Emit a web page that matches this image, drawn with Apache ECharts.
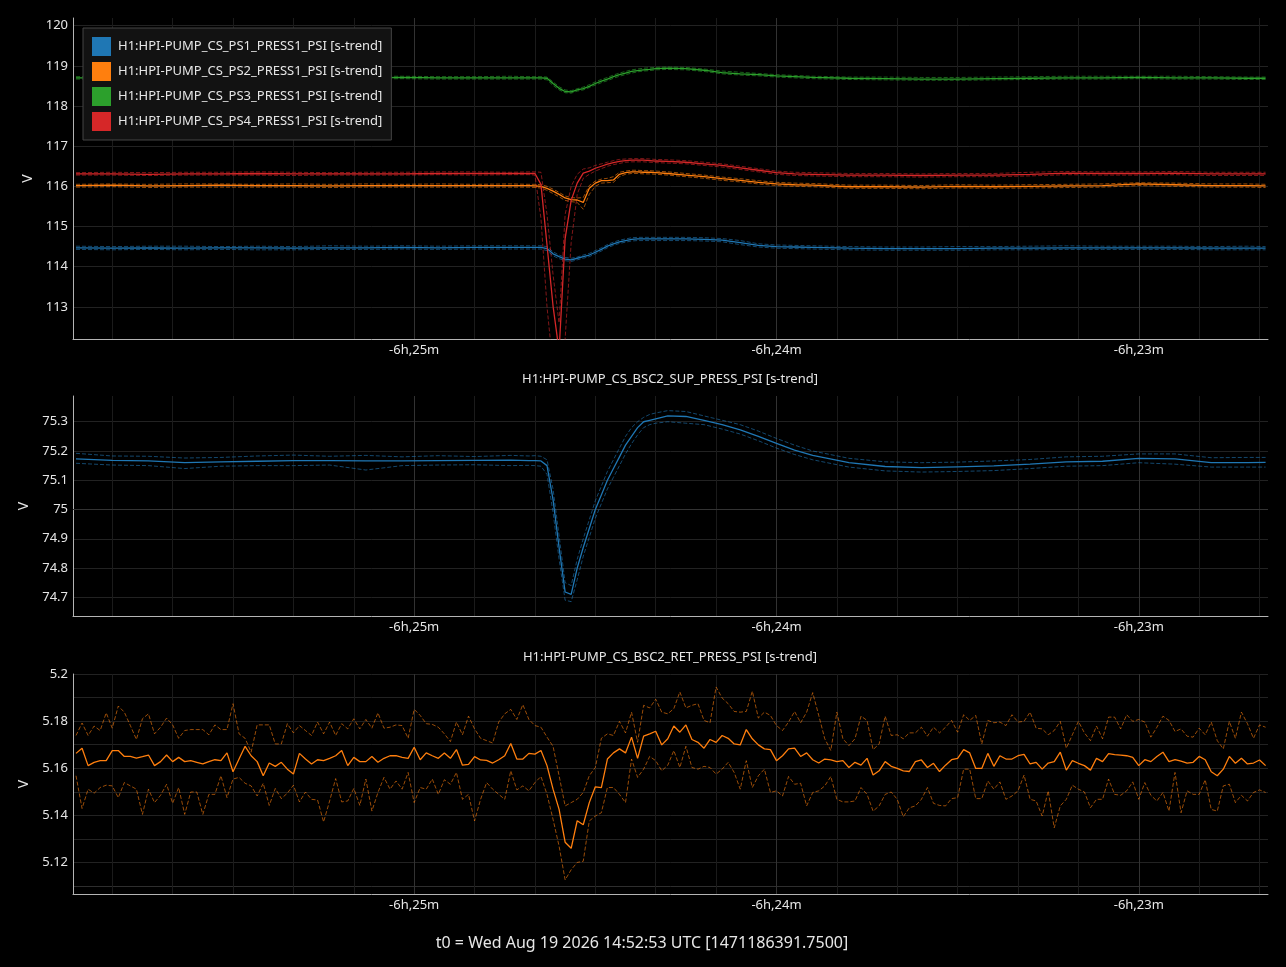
<!DOCTYPE html>
<html>
<head>
<meta charset="utf-8">
<script src="https://cdn.jsdelivr.net/npm/echarts@6/dist/echarts.min.js"></script>
<style>html,body{margin:0;padding:0;background:#000;}#c{width:1286px;height:967px;}</style>
</head>
<body>
<div id="c"></div>
<script>
// ---------- shared time sampling (seconds relative to t0) ----------
const X_MIN = -23156.5, X_MAX = -22958.6;
const TIME_A = [-23156,-23150,-23144,-23138,-23132,-23126,-23120,-23114,-23108,-23102,-23096,-23090,-23084,-23081,
  -23080,-23079,-23078,-23077,-23076,-23075,-23074,-23073,-23072,-23071,-23070,-23069,-23068,-23067,-23066,-23065,-23064,-23063,-23062,-23061,-23060,
  -23058,-23055,-23052,-23049,-23046,-23043,-23040,-23037,-23034,
  -23028,-23022,-23016,-23010,-23004,-22998,-22992,-22986,-22980,-22974,-22968,-22962,-22959];
const TIME_C_START = -23156; // 1-second trend for bottom panel

const NAMES = ['H1:HPI-PUMP_CS_PS1_PRESS1_PSI [s-trend]','H1:HPI-PUMP_CS_PS2_PRESS1_PSI [s-trend]','H1:HPI-PUMP_CS_PS3_PRESS1_PSI [s-trend]','H1:HPI-PUMP_CS_PS4_PRESS1_PSI [s-trend]'];
const TITLE_SUP = 'H1:HPI-PUMP_CS_BSC2_SUP_PRESS_PSI [s-trend]';
const TITLE_RET = 'H1:HPI-PUMP_CS_BSC2_RET_PRESS_PSI [s-trend]';
const T0_TEXT = 't0 = Wed Aug 19 2026 14:52:53 UTC [1471186391.7500]';
const SUP_MAJOR_LINE = 75;

// ---------- panel 1 ----------
const PS1_MEAN = [114.47,114.46,114.47,114.46,114.47,114.47,114.46,114.47,114.47,114.48,114.47,114.48,114.48,114.48,
 114.48,114.48,114.45,114.32,114.25,114.19,114.17,114.21,114.25,114.29,114.36,114.43,114.51,114.57,114.62,114.65,114.68,114.69,114.69,114.69,114.69,
 114.69,114.69,114.68,114.66,114.60,114.53,114.50,114.49,114.48,
 114.46,114.45,114.45,114.45,114.46,114.46,114.47,114.47,114.47,114.47,114.46,114.46,114.46];
const PS1_MAX = [114.51,114.50,114.51,114.51,114.50,114.51,114.50,114.52,114.51,114.52,114.51,114.52,114.52,114.52,
 114.52,114.52,114.50,114.37,114.29,114.23,114.21,114.24,114.29,114.33,114.40,114.47,114.55,114.61,114.66,114.69,114.72,114.73,114.73,114.73,114.73,
 114.73,114.73,114.72,114.70,114.65,114.57,114.54,114.53,114.52,
 114.50,114.49,114.49,114.50,114.50,114.51,114.52,114.51,114.51,114.51,114.50,114.51,114.50];
const PS1_MIN = [114.43,114.42,114.43,114.42,114.43,114.42,114.42,114.43,114.43,114.44,114.43,114.44,114.44,114.44,
 114.44,114.44,114.40,114.27,114.20,114.15,114.13,114.17,114.21,114.25,114.32,114.39,114.47,114.53,114.58,114.61,114.64,114.65,114.65,114.65,114.65,
 114.65,114.65,114.64,114.62,114.55,114.49,114.46,114.45,114.44,
 114.42,114.41,114.41,114.41,114.42,114.42,114.43,114.43,114.43,114.43,114.42,114.42,114.42];

const PS2_MEAN = [116.02,116.03,116.01,116.02,116.03,116.02,116.02,116.01,116.02,116.02,116.02,116.02,116.02,116.02,
 116.01,116.00,115.95,115.88,115.80,115.71,115.67,115.66,115.60,115.95,116.08,116.14,116.14,116.16,116.30,116.34,116.36,116.36,116.35,116.35,116.34,
 116.32,116.28,116.24,116.19,116.15,116.10,116.06,116.04,116.03,
 115.99,115.99,115.98,116.00,115.99,116.00,116.01,116.02,116.06,116.04,116.02,116.02,116.01];
const PS2_MAX = [116.05,116.06,116.05,116.06,116.06,116.05,116.06,116.05,116.06,116.05,116.06,116.05,116.06,116.05,
 116.05,116.04,116.00,115.93,115.85,115.76,115.72,115.71,115.72,116.02,116.13,116.18,116.20,116.24,116.35,116.38,116.40,116.40,116.39,116.39,116.38,
 116.36,116.32,116.28,116.23,116.19,116.14,116.10,116.08,116.07,
 116.03,116.03,116.02,116.04,116.03,116.04,116.05,116.06,116.09,116.08,116.06,116.06,116.05];
const PS2_MIN = [115.98,115.99,115.97,115.98,115.98,115.98,115.98,115.97,115.98,115.98,115.98,115.98,115.98,115.98,
 115.97,115.96,115.90,115.82,115.74,115.65,115.62,115.60,115.43,115.80,116.00,116.08,116.09,116.10,116.24,116.30,116.32,116.32,116.31,116.31,116.30,
 116.28,116.24,116.20,116.15,116.11,116.06,116.02,116.00,115.99,
 115.95,115.95,115.94,115.96,115.95,115.96,115.97,115.98,116.02,116.00,115.98,115.98,115.97];

const PS3_MEAN = [118.70,118.70,118.71,118.70,118.70,118.70,118.69,118.70,118.70,118.71,118.70,118.70,118.70,118.70,
 118.70,118.70,118.69,118.56,118.44,118.36,118.35,118.40,118.43,118.49,118.56,118.62,118.67,118.73,118.78,118.82,118.86,118.88,118.90,118.91,118.93,
 118.94,118.93,118.89,118.83,118.80,118.78,118.75,118.73,118.71,
 118.69,118.68,118.67,118.67,118.68,118.69,118.70,118.70,118.71,118.70,118.70,118.69,118.69];
const PS3_MAX = [118.73,118.74,118.74,118.73,118.73,118.74,118.73,118.73,118.74,118.74,118.73,118.73,118.74,118.73,
 118.73,118.73,118.72,118.60,118.48,118.40,118.38,118.43,118.47,118.53,118.60,118.66,118.71,118.77,118.82,118.86,118.90,118.92,118.94,118.95,118.96,
 118.97,118.96,118.92,118.87,118.84,118.81,118.78,118.76,118.74,
 118.72,118.72,118.71,118.71,118.72,118.73,118.74,118.74,118.74,118.74,118.73,118.72,118.72];
const PS3_MIN = [118.67,118.67,118.68,118.67,118.67,118.66,118.66,118.67,118.67,118.68,118.67,118.67,118.67,118.67,
 118.67,118.67,118.65,118.51,118.40,118.33,118.32,118.37,118.40,118.46,118.52,118.58,118.63,118.69,118.74,118.78,118.82,118.85,118.87,118.88,118.90,
 118.91,118.90,118.86,118.80,118.77,118.75,118.72,118.70,118.68,
 118.66,118.65,118.64,118.64,118.65,118.66,118.67,118.67,118.68,118.67,118.67,118.66,118.66];

const PS4_MEAN = [116.31,116.31,116.30,116.31,116.31,116.32,116.31,116.31,116.31,116.31,116.32,116.32,116.32,116.32,
 116.32,116.05,114.54,113.02,111.90,114.70,115.65,116.08,116.33,116.38,116.45,116.50,116.55,116.59,116.62,116.64,116.65,116.65,116.65,116.64,116.63,
 116.62,116.60,116.56,116.52,116.46,116.40,116.34,116.31,116.30,
 116.28,116.28,116.27,116.28,116.28,116.30,116.33,116.32,116.32,116.33,116.31,116.31,116.31];
const PS4_MAX = [116.34,116.35,116.34,116.35,116.35,116.36,116.35,116.34,116.35,116.35,116.36,116.36,116.35,116.36,
 116.36,116.35,115.30,113.80,112.60,115.30,116.00,116.30,116.43,116.46,116.52,116.56,116.60,116.64,116.67,116.68,116.69,116.69,116.69,116.68,116.67,
 116.66,116.64,116.60,116.56,116.50,116.44,116.38,116.35,116.34,
 116.32,116.32,116.31,116.32,116.32,116.35,116.37,116.36,116.36,116.37,116.35,116.35,116.35];
const PS4_MIN = [116.28,116.28,116.27,116.28,116.28,116.28,116.27,116.28,116.28,116.28,116.29,116.28,116.29,116.29,
 116.28,115.20,113.00,111.50,111.30,112.20,114.60,115.80,116.20,116.30,116.38,116.44,116.50,116.54,116.57,116.60,116.61,116.61,116.61,116.60,116.59,
 116.58,116.56,116.52,116.48,116.42,116.36,116.30,116.27,116.26,
 116.24,116.24,116.23,116.24,116.24,116.26,116.29,116.28,116.28,116.29,116.27,116.27,116.27];

// ---------- panel 2 ----------
const SUP_MEAN = [75.173,75.168,75.166,75.160,75.163,75.165,75.167,75.167,75.166,75.166,75.167,75.168,75.169,75.167,
 75.167,75.166,75.15,75.034,74.87,74.718,74.71,74.80,74.87,74.935,75.00,75.05,75.10,75.14,75.18,75.22,75.25,75.28,75.30,75.305,75.31,
 75.32,75.318,75.305,75.29,75.272,75.25,75.226,75.203,75.185,
 75.160,75.147,75.143,75.146,75.149,75.155,75.163,75.165,75.175,75.173,75.160,75.160,75.161];
const SUP_MAX = [75.192,75.183,75.182,75.176,75.178,75.183,75.186,75.182,75.185,75.180,75.184,75.181,75.185,75.183,
 75.184,75.182,75.17,75.07,74.91,74.75,74.74,74.83,74.90,74.965,75.03,75.08,75.13,75.17,75.21,75.25,75.28,75.30,75.315,75.325,75.33,
 75.338,75.335,75.32,75.305,75.29,75.268,75.243,75.22,75.20,
 75.175,75.163,75.16,75.162,75.166,75.171,75.18,75.182,75.19,75.19,75.177,75.178,75.178];
const SUP_MIN = [75.158,75.152,75.150,75.140,75.148,75.150,75.150,75.152,75.135,75.150,75.152,75.153,75.150,75.151,
 75.150,75.148,75.12,74.99,74.83,74.69,74.685,74.76,74.84,74.905,74.97,75.02,75.07,75.11,75.15,75.19,75.225,75.255,75.28,75.29,75.295,
 75.30,75.295,75.29,75.275,75.258,75.235,75.21,75.188,75.17,
 75.145,75.132,75.128,75.13,75.133,75.14,75.148,75.15,75.16,75.155,75.145,75.145,75.145];

// ---------- panel 3 (1 s samples) ----------
const RET_MEAN = [5.1663,5.1685,5.1611,5.1625,5.1632,5.1632,5.1675,5.1675,5.1650,5.1650,
5.1643,5.1649,5.1656,5.1611,5.1628,5.1656,5.1628,5.1646,5.1628,5.1632,
5.1625,5.1618,5.1628,5.1636,5.1632,5.1665,5.1585,5.1639,5.1693,5.1653,
5.1628,5.1568,5.1622,5.1608,5.1625,5.1596,5.1575,5.1663,5.1639,5.1618,
5.1636,5.1632,5.1642,5.1653,5.1675,5.1611,5.1646,5.1628,5.1628,5.1650,
5.1625,5.1642,5.1653,5.1653,5.1646,5.1642,5.1689,5.1636,5.1665,5.1653,
5.1642,5.1665,5.1642,5.1679,5.1613,5.1616,5.1649,5.1635,5.1633,5.1622,
5.1636,5.1653,5.1705,5.1639,5.1639,5.1663,5.1660,5.1675,5.1611,5.1511,
5.1425,5.1286,5.1260,5.1377,5.1360,5.1454,5.1521,5.1518,5.1639,5.1665,
5.1682,5.1665,5.1732,5.1642,5.1736,5.1746,5.1757,5.1699,5.1725,5.1779,
5.1753,5.1784,5.1722,5.1710,5.1685,5.1722,5.1710,5.1739,5.1727,5.1703,
5.1699,5.1764,5.1725,5.1699,5.1682,5.1679,5.1632,5.1653,5.1682,5.1685,
5.1650,5.1665,5.1636,5.1622,5.1639,5.1635,5.1628,5.1632,5.1603,5.1625,
5.1613,
5.1642,5.1571,5.1589,5.1628,5.1608,5.1599,5.1589,5.1586,5.1628,5.1635,
5.1603,5.1621,5.1586,5.1613,5.1636,5.1642,5.1679,5.1665,5.1599,5.1599,
5.1663,5.1608,5.1653,5.1639,5.1639,5.1653,5.1659,5.1618,5.1625,5.1596,
5.1622,5.1628,5.1668,5.1592,5.1632,5.1621,5.1611,5.1592,5.1642,5.1628,
5.1662,5.1658,5.1656,5.1653,5.1646,5.1611,5.1636,5.1628,5.1650,5.1668,
5.1628,5.1636,5.1630,5.1622,5.1625,5.1650,5.1636,5.1585,5.1568,5.1596,
5.1650,5.1621,5.1642,5.1618,5.1622,5.1635,5.1611];
const RET_MAX = [5.1739,5.1792,5.1739,5.1779,5.1760,5.1835,5.1770,5.1864,5.1838,5.1781,
5.1722,5.1810,5.1831,5.1746,5.1774,5.1813,5.1784,5.1727,5.1760,5.1764,
5.1764,5.1764,5.1742,5.1784,5.1764,5.1764,5.1874,5.1746,5.1727,5.1668,
5.1784,5.1784,5.1784,5.1703,5.1703,5.1789,5.1750,5.1781,5.1760,5.1739,
5.1796,5.1746,5.1796,5.1739,5.1789,5.1767,5.1810,5.1767,5.1807,5.1770,
5.1835,5.1770,5.1774,5.1784,5.1781,5.1727,5.1850,5.1824,5.1789,5.1786,
5.1774,5.1746,5.1713,5.1796,5.1742,5.1821,5.1767,5.1727,5.1717,5.1707,
5.1796,5.1831,5.1850,5.1807,5.1870,5.1807,5.1781,5.1774,5.1732,5.1693,
5.1568,5.1440,5.1454,5.1468,5.1497,5.1568,5.1603,5.1727,5.1746,5.1739,
5.1799,5.1750,5.1838,5.1710,5.1867,5.1856,5.1893,5.1838,5.1831,5.1853,
5.1924,5.1856,5.1867,5.1874,5.1803,5.1793,5.1945,5.1898,5.1874,5.1841,
5.1838,5.1841,5.1927,5.1813,5.1838,5.1824,5.1781,5.1760,5.1796,5.1841,
5.1793,5.1838,5.1921,5.1824,5.1725,5.1675,5.1838,5.1725,5.1696,5.1725,
5.1821,
5.1803,5.1679,5.1703,5.1821,5.1739,5.1742,5.1725,5.1750,5.1750,5.1774,
5.1736,5.1774,5.1750,5.1774,5.1803,5.1753,5.1827,5.1803,5.1824,5.1703,
5.1803,5.1793,5.1796,5.1781,5.1827,5.1796,5.1799,5.1838,5.1770,5.1767,
5.1742,5.1760,5.1799,5.1685,5.1742,5.1799,5.1750,5.1717,5.1779,5.1725,
5.1817,5.1817,5.1767,5.1827,5.1799,5.1807,5.1796,5.1732,5.1774,5.1821,
5.1803,5.1756,5.1767,5.1736,5.1732,5.1770,5.1742,5.1796,5.1717,5.1682,
5.1799,5.1727,5.1838,5.1789,5.1727,5.1784,5.1774];
const RET_MIN = [5.1568,5.1429,5.1511,5.1494,5.1518,5.1528,5.1525,5.1475,5.1539,5.1525,
5.1511,5.1404,5.1511,5.1454,5.1485,5.1532,5.1451,5.1518,5.1404,5.1499,
5.1499,5.1404,5.1489,5.1489,5.1568,5.1475,5.1554,5.1561,5.1536,5.1525,
5.1482,5.1536,5.1442,5.1514,5.1471,5.1494,5.1528,5.1457,5.1499,5.1468,
5.1465,5.1372,5.1461,5.1556,5.1457,5.1461,5.1514,5.1442,5.1554,5.1418,
5.1497,5.1561,5.1511,5.1546,5.1511,5.1582,5.1454,5.1518,5.1511,5.1554,
5.1489,5.1551,5.1532,5.1582,5.1468,5.1489,5.1376,5.1468,5.1539,5.1511,
5.1489,5.1468,5.1589,5.1508,5.1525,5.1504,5.1539,5.1565,5.1489,5.1383,
5.1269,5.1126,5.1169,5.1200,5.1205,5.1376,5.1397,5.1411,5.1518,5.1518,
5.1489,5.1454,5.1639,5.1561,5.1596,5.1650,5.1632,5.1589,5.1613,5.1675,
5.1603,5.1693,5.1603,5.1596,5.1608,5.1603,5.1575,5.1596,5.1625,5.1582,
5.1511,5.1632,5.1518,5.1568,5.1596,5.1497,5.1504,5.1482,5.1565,5.1532,
5.1536,5.1440,5.1497,5.1504,5.1525,5.1565,5.1468,5.1457,5.1457,5.1461,
5.1518,
5.1489,5.1418,5.1440,5.1489,5.1499,5.1468,5.1394,5.1432,5.1440,5.1468,
5.1518,5.1451,5.1442,5.1440,5.1471,5.1475,5.1596,5.1596,5.1471,5.1471,
5.1546,5.1511,5.1542,5.1468,5.1482,5.1504,5.1571,5.1468,5.1461,5.1397,
5.1504,5.1347,5.1440,5.1468,5.1528,5.1511,5.1499,5.1432,5.1468,5.1468,
5.1554,5.1489,5.1485,5.1504,5.1542,5.1468,5.1539,5.1485,5.1461,5.1497,
5.1418,5.1582,5.1411,5.1504,5.1489,5.1489,5.1551,5.1425,5.1418,5.1525,
5.1532,5.1454,5.1485,5.1461,5.1497,5.1508,5.1497];
const TIME_C = RET_MEAN.map((_, i) => TIME_C_START + i);

// ---------- colours ----------
const C_BLUE = '#1f77b4', C_ORANGE = '#ff7f0e', C_GREEN = '#2ca02c', C_RED = '#d62728';
const TXT = '#e6e6e6', AXIS = '#b4b4b4', GRID_H = '#222222', GRID_MINOR = '#1b1b1b', GRID_MAJOR = '#323232';
const FONT = 'Noto Sans';

function fmtT(v) {
  if (Math.abs(v / 60 - Math.round(v / 60)) > 1e-6) return '';
  const s = Math.abs(v), h = Math.floor(s / 3600), m = Math.round((s - h * 3600) / 60);
  return (v < 0 ? '-' : '') + h + 'h,' + m + 'm';
}
function stepFmt(step, dec) {
  return function (v) {
    const k = v / step;
    if (Math.abs(k - Math.round(k)) > 1e-6) return '';
    return String(parseFloat(v.toFixed(dec)));
  };
}
function line(name, times, vals, color, dashed, xi, yi) {
  return {
    name: name, type: 'line', xAxisIndex: xi, yAxisIndex: yi,
    data: times.map((t, i) => [t, vals[i]]),
    showSymbol: false, symbol: 'none', silent: true, animation: false,
    lineStyle: { color: color, width: dashed ? 1 : 1.3, type: dashed ? [4, 2] : 'solid', opacity: dashed ? 0.6 : 1 },
    itemStyle: { color: color }, z: dashed ? 2 : 3
  };
}

const GRIDS = [
  { left: 73, right: 18, top: 18, height: 321 },
  { left: 73, right: 18, top: 396, height: 220 },
  { left: 73, right: 18, top: 674, height: 220 }
];
const xAxes = [];
GRIDS.forEach((g, gi) => {
  xAxes.push({ type: 'value', gridIndex: gi, min: X_MIN, max: X_MAX, minInterval: 10, maxInterval: 10, position: 'bottom',
    axisLine: { show: false, onZero: false }, axisTick: { show: false }, axisLabel: { show: false },
    splitLine: { show: true, showMinLine: false, showMaxLine: false, lineStyle: { color: GRID_MINOR, width: 1 } } });
  xAxes.push({ type: 'value', gridIndex: gi, min: X_MIN, max: X_MAX, minInterval: 60, maxInterval: 60, position: 'bottom',
    axisLine: { show: true, onZero: false, lineStyle: { color: AXIS, width: 1 } }, axisTick: { show: false },
    axisLabel: { color: TXT, fontSize: 13, fontFamily: FONT, margin: 5, formatter: fmtT, showMinLabel: true, showMaxLabel: true },
    splitLine: { show: true, showMinLine: false, showMaxLine: false, lineStyle: { color: GRID_MAJOR, width: 1 } } });
});
function yAxis(gi, min, max, step, showMax) {
  return { type: 'value', gridIndex: gi, min: min, max: max, minInterval: step, maxInterval: step,
    name: 'V', nameLocation: 'middle', nameGap: 37, nameTextStyle: { color: TXT, fontSize: 14, fontFamily: FONT },
    axisLine: { show: true, onZero: false, lineStyle: { color: AXIS, width: 1 } }, axisTick: { show: false },
    axisLabel: { color: TXT, fontSize: 13, fontFamily: FONT, margin: 5, formatter: null },
    splitLine: { show: true, showMinLine: false, showMaxLine: showMax, lineStyle: { color: GRID_H, width: 1 } } };
}
const y0 = yAxis(0, 112.2, 120.19, 1, false); y0.axisLabel.formatter = stepFmt(1, 0);
const y1 = yAxis(1, 74.636, 75.388, 0.1, false); y1.axisLabel.formatter = stepFmt(0.1, 1);
const y2 = yAxis(2, 5.1066, 5.2, 0.01, true); y2.axisLabel.formatter = stepFmt(0.02, 2);
y2.splitLine.lineStyle.color = ['#2e2e2e'].concat(Array(9).fill(GRID_H));

const supMean = line('SUP mean', TIME_A, SUP_MEAN, C_BLUE, false, 3, 1);
supMean.markLine = { silent: true, symbol: 'none', label: { show: false }, z: 1,
  lineStyle: { color: '#333333', width: 1, type: 'solid', opacity: 1 }, data: [{ yAxis: SUP_MAJOR_LINE }] };

const series = [
  line('PS1 max', TIME_A, PS1_MAX, C_BLUE, true, 1, 0), line('PS1 min', TIME_A, PS1_MIN, C_BLUE, true, 1, 0),
  line('PS2 max', TIME_A, PS2_MAX, C_ORANGE, true, 1, 0), line('PS2 min', TIME_A, PS2_MIN, C_ORANGE, true, 1, 0),
  line('PS3 max', TIME_A, PS3_MAX, C_GREEN, true, 1, 0), line('PS3 min', TIME_A, PS3_MIN, C_GREEN, true, 1, 0),
  line('PS4 max', TIME_A, PS4_MAX, C_RED, true, 1, 0), line('PS4 min', TIME_A, PS4_MIN, C_RED, true, 1, 0),
  line(NAMES[0], TIME_A, PS1_MEAN, C_BLUE, false, 1, 0),
  line(NAMES[1], TIME_A, PS2_MEAN, C_ORANGE, false, 1, 0),
  line(NAMES[2], TIME_A, PS3_MEAN, C_GREEN, false, 1, 0),
  line(NAMES[3], TIME_A, PS4_MEAN, C_RED, false, 1, 0),
  line('SUP max', TIME_A, SUP_MAX, C_BLUE, true, 3, 1), line('SUP min', TIME_A, SUP_MIN, C_BLUE, true, 3, 1),
  supMean,
  line('RET max', TIME_C, RET_MAX, C_ORANGE, true, 5, 2), line('RET min', TIME_C, RET_MIN, C_ORANGE, true, 5, 2),
  line('RET mean', TIME_C, RET_MEAN, C_ORANGE, false, 5, 2)
];

const chart = echarts.init(document.getElementById('c'), null, { renderer: 'canvas' });
chart.setOption({
  backgroundColor: '#000000',
  animation: false,
  textStyle: { fontFamily: FONT },
  title: [
    { text: TITLE_SUP, left: 670, top: 373, padding: 0, textAlign: 'center', textStyle: { color: TXT, fontSize: 13, fontWeight: 'normal', fontFamily: FONT } },
    { text: TITLE_RET, left: 670, top: 651, padding: 0, textAlign: 'center', textStyle: { color: TXT, fontSize: 13, fontWeight: 'normal', fontFamily: FONT } },
    { text: T0_TEXT, left: 642, top: 935, padding: 0, textAlign: 'center', textStyle: { color: TXT, fontSize: 16, fontWeight: 'normal', fontFamily: FONT } }
  ],
  legend: {
    data: NAMES, left: 83, top: 28, orient: 'vertical', icon: 'rect', itemWidth: 19, itemHeight: 19, itemGap: 6,
    padding: [9, 9, 9, 9], backgroundColor: '#121212', borderColor: '#444444', borderWidth: 1,
    textStyle: { color: TXT, fontSize: 13, fontFamily: FONT, padding: [0, 0, 0, 2] }, selectedMode: false
  },
  grid: GRIDS,
  xAxis: xAxes,
  yAxis: [y0, y1, y2],
  series: series
});
</script>
</body>
</html>
